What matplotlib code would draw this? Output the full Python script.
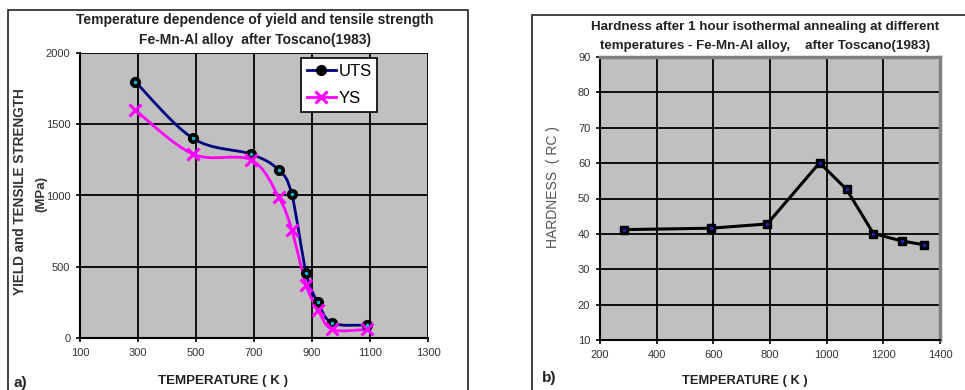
import matplotlib
matplotlib.use("Agg")
import matplotlib.pyplot as plt
import numpy as np
from matplotlib.patches import Rectangle, PathPatch
from matplotlib.path import Path
from matplotlib.transforms import IdentityTransform

plt.rcParams['font.family'] = ['Liberation Sans', 'DejaVu Sans']

# ---- data, panel a ----
temp_a = [290, 490, 690, 785, 830, 880, 920, 970, 1090]
uts = [1800, 1400, 1290, 1180, 1010, 455, 250, 105, 90]
ys = [1600, 1290, 1250, 990, 760, 370, 200, 60, 60]
xticks_a = [100, 300, 500, 700, 900, 1100, 1300]
yticks_a = [0, 500, 1000, 1500, 2000]

# ---- data, panel b ----
temp_b = [285, 590, 790, 975, 1070, 1165, 1265, 1345]
hard = [41.2, 41.6, 42.8, 60.1, 52.6, 40.1, 38.0, 36.9]
xticks_b = [200, 400, 600, 800, 1000, 1200, 1400]
yticks_b = [10, 20, 30, 40, 50, 60, 70, 80, 90]

W, H = 965, 390
fig = plt.figure(figsize=(W / 100, H / 100), dpi=100)
fig.patch.set_facecolor('white')


def px_axes(l, t, r, b):
    return fig.add_axes([l / W, 1 - b / H, (r - l) / W, (b - t) / H])


def frame(l, t, r, b):
    fig.add_artist(Rectangle((l / W, 1 - b / H), (r - l) / W, (b - t) / H,
                             transform=fig.transFigure, fill=False,
                             edgecolor='#222222', lw=1.2, clip_on=False))


def smooth_line(ax, x, y, color, lw):
    pts = ax.transData.transform(np.column_stack([x, y]))
    n = len(pts)
    verts = [pts[0]]
    codes = [Path.MOVETO]
    for i in range(n - 1):
        p0 = pts[i - 1] if i > 0 else pts[i]
        p1 = pts[i]
        p2 = pts[i + 1]
        p3 = pts[i + 2] if i + 2 < n else pts[i + 1]
        c1 = p1 + (p2 - p0) / 6.0
        c2 = p2 - (p3 - p1) / 6.0
        verts += [c1, c2, p2]
        codes += [Path.CURVE4] * 3
    patch = PathPatch(Path(verts, codes), transform=IdentityTransform(),
                      facecolor='none', edgecolor=color, lw=lw, zorder=3,
                      capstyle='round', joinstyle='round')
    ax.add_artist(patch)


def style_axes(ax):
    ax.set_facecolor('#C0C0C0')
    ax.grid(True, color='black', lw=1.3)
    ax.set_axisbelow(True)
    for s in ['top', 'right']:
        ax.spines[s].set_visible(False)
    for s in ['left', 'bottom']:
        ax.spines[s].set_color('black')
        ax.spines[s].set_linewidth(1.5)
    ax.tick_params(direction='out', length=3, width=1.2, labelsize=8,
                   colors='black', pad=4)


# ---------------- panel a ----------------
frame(8, 10, 468, 392)
axa = px_axes(80, 53, 428, 338)
style_axes(axa)
axa.set_xlim(100, 1300)
axa.set_ylim(0, 2000)
axa.set_xticks(xticks_a)
axa.set_yticks(yticks_a)
axa.set_xticklabels([str(v) for v in xticks_a], color='#333333')
axa.set_yticklabels([str(v) for v in yticks_a], color='#333333')
smooth_line(axa, temp_a, uts, '#000080', 2.0)
smooth_line(axa, temp_a, ys, '#FF00FF', 2.0)
axa.plot(temp_a, uts, ls='none', marker='o', ms=7, mfc='black',
         mec='black', zorder=4)
axa.plot(temp_a, uts, ls='none', marker='o', ms=1.5, mfc='#00C0E0',
         mec='#00C0E0', zorder=5)
axa.plot(temp_a, ys, ls='none', marker='x', ms=8, mew=2.2,
         color='#FF00FF', zorder=4)
# legend
h1, = axa.plot([], [], color='#000080', lw=2, marker='o', ms=7,
               mfc='black', mec='black')
h2, = axa.plot([], [], color='#FF00FF', lw=2, marker='x', ms=8, mew=2.2)
leg = axa.legend([h1, h2], ['UTS', 'YS'], loc='upper left',
                 bbox_to_anchor=((301 - 80) / 348, (338 - 58) / 285),
                 fontsize=12, frameon=True, fancybox=False, framealpha=1,
                 edgecolor='black', handlelength=1.75, handletextpad=0.15,
                 borderpad=0.35, labelspacing=0.75, borderaxespad=0)
leg.get_frame().set_linewidth(1.2)

fig.text(255 / W, 1 - 20 / H, 'Temperature dependence of yield and tensile strength',
         ha='center', va='center', fontsize=10, fontweight='bold', color='#222222')
fig.text(255 / W, 1 - 40 / H, 'Fe-Mn-Al alloy  after Toscano(1983)',
         ha='center', va='center', fontsize=10, fontweight='bold', color='#222222')
fig.text(20 / W, 1 - 192 / H, 'YIELD and TENSILE STRENGTH', rotation=90,
         ha='center', va='center', fontsize=9.8, fontweight='bold', color='#333333')
fig.text(41 / W, 1 - 194 / H, '(MPa)', rotation=90,
         ha='center', va='center', fontsize=9.5, fontweight='bold', color='#333333')
fig.text(223 / W, 1 - 381 / H, 'TEMPERATURE ( K )', ha='center', va='center',
         fontsize=9.6, fontweight='bold', color='#222222')
fig.text(13 / W, 1 - 383 / H, 'a)', ha='left', va='center', fontsize=11,
         fontweight='bold', color='#222222')

# ---------------- panel b ----------------
frame(532, 15, 975, 395)
axb = px_axes(600, 57, 940, 340)
style_axes(axb)
axb.spines['top'].set_visible(True)
axb.spines['right'].set_visible(True)
axb.spines['top'].set_color('#808080')
axb.spines['right'].set_color('#808080')
axb.spines['top'].set_linewidth(2.5)
axb.spines['right'].set_linewidth(2.5)
axb.set_xlim(200, 1400)
axb.set_ylim(10, 90)
axb.set_xticks(xticks_b)
axb.set_yticks(yticks_b)
axb.set_xticklabels([str(v) for v in xticks_b], color='#333333')
axb.set_yticklabels([str(v) for v in yticks_b], color='#333333')
axb.plot(temp_b, hard, color='black', lw=2.2, zorder=3)
axb.plot(temp_b, hard, ls='none', marker='s', ms=6, mfc='black',
         mec='black', zorder=4)
axb.plot(temp_b, hard, ls='none', marker='o', ms=1.5, mfc='#2020C0',
         mec='#2020C0', zorder=5)

fig.text(765 / W, 1 - 27 / H,
         'Hardness after 1 hour isothermal annealing at different',
         ha='center', va='center', fontsize=9.6, fontweight='bold', color='#222222')
fig.text(765 / W, 1 - 46 / H,
         'temperatures - Fe-Mn-Al alloy,    after Toscano(1983)',
         ha='center', va='center', fontsize=9.6, fontweight='bold', color='#222222')
fig.text(553 / W, 1 - 187 / H, 'HARDNESS  ( RC )', rotation=90,
         ha='center', va='center', fontsize=10, color='#555555')
fig.text(745 / W, 1 - 381 / H, 'TEMPERATURE ( K )', ha='center', va='center',
         fontsize=9.3, fontweight='bold', color='#222222')
fig.text(542 / W, 1 - 378 / H, 'b)', ha='left', va='center', fontsize=11,
         fontweight='bold', color='#222222')

fig.savefig('out.png', dpi=100, facecolor='white')
